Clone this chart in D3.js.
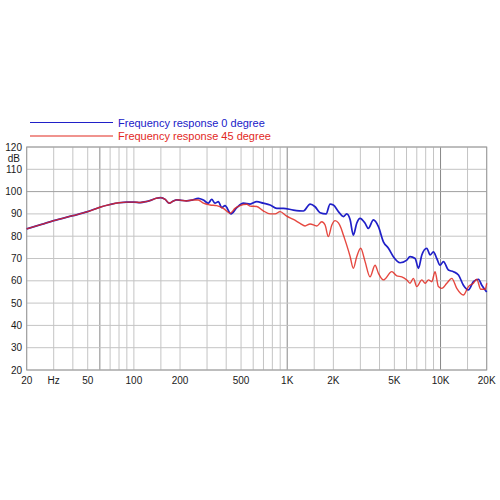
<!DOCTYPE html>
<html>
<head>
<meta charset="utf-8">
<script src="https://cdn.jsdelivr.net/npm/d3@7"></script>
<style>
  body { margin: 0; background: #fff; }
  svg { display: block; font-family: "Liberation Sans", Arial, sans-serif; }
</style>
</head>
<body>
<svg width="500" height="500"></svg>
<script>
// frequency response, 0 degree (blue)
var blueFreq = [20, 25, 30, 40, 50, 60, 70, 80, 90, 100, 110, 120, 130, 140, 150, 160, 170, 180, 190, 200, 220, 240, 263,
  284, 306, 322, 338, 356, 374, 393, 430, 469, 518, 573, 633, 698, 773, 855, 944, 1097, 1275, 1410, 1520, 1638, 1792,
  1904, 2000, 2158, 2325, 2444, 2570, 2700, 2840, 2987, 3220, 3382, 3648, 3934, 4240, 4572, 4924, 5446, 6025, 6325,
  6826, 7180, 7550, 8130, 8550, 8990, 9450, 9930, 10450, 11250, 12130, 13090, 14100, 15200, 16380, 17660, 18580, 20000];
var blueDb = [83.3, 85.3, 87.0, 89.2, 91.0, 93.0, 94.2, 95.0, 95.3, 95.3, 95.1, 95.5, 96.2, 97.0, 97.3, 96.5, 94.8, 95.7, 96.3, 96.2, 95.8, 96.2, 97.0,
  96.2, 94.8, 96.5, 94.8, 95.5, 92.8, 93.7, 90.0, 92.8, 94.8, 94.4, 95.5, 94.8, 94.0, 92.5, 92.5, 91.7, 91.3, 94.4, 93.2, 90.5, 90.0,
  94.4, 94.0, 91.0, 88.8, 90.0, 87.5, 80.5, 85.8, 88.0, 85.8, 83.5, 87.3, 84.3, 77.5, 74.6, 70.8, 68.1, 69.3, 70.8,
  70.0, 65.6, 71.6, 74.6, 71.6, 73.0, 70.0, 67.0, 68.6, 64.8, 64.1, 62.6, 58.0, 55.9, 59.6, 60.7, 58.0, 55.0];

// frequency response, 45 degree (red)
var redFreq = [20, 25, 30, 40, 50, 60, 70, 80, 90, 100, 110, 120, 130, 140, 150, 160, 170, 180, 190, 200, 220, 240, 263,
  284, 314, 347, 383, 424, 457, 492, 545, 573, 633, 698, 773, 834, 898, 993, 1097, 1213, 1307, 1410, 1559, 1680, 1766,
  1855, 1954, 2052, 2158, 2250, 2325, 2444, 2570, 2700, 2840, 3013, 3220, 3468, 3741, 3934, 4240, 4810, 5185, 5587,
  6025, 6325, 6650, 7000, 7550, 7940, 8340, 8770, 9210, 9680, 10190, 10990, 11830, 12760, 14100, 15200, 16380, 17220,
  18290, 19540, 20000];
var redDb = [83.3, 85.3, 87.0, 89.2, 91.0, 93.0, 94.2, 95.0, 95.3, 95.3, 95.1, 95.5, 96.2, 97.0, 97.3, 96.5, 94.8, 95.7, 96.3, 96.2, 95.8, 96.2, 96.2,
  94.8, 94.0, 93.7, 92.5, 90.3, 92.5, 93.7, 94.3, 93.5, 93.3, 91.4, 90.0, 90.0, 91.0, 89.0, 87.5, 85.8, 84.6, 85.5, 84.6, 86.5, 85.0,
  79.8, 85.0, 87.0, 86.0, 83.5, 80.5, 76.0, 71.0, 65.6, 70.8, 74.6, 68.6, 61.8, 67.0, 63.4, 60.4, 64.1, 62.2, 61.8,
  60.4, 58.9, 61.1, 57.4, 60.4, 58.9, 60.4, 59.6, 64.1, 57.4, 56.6, 58.9, 61.1, 56.6, 53.6, 57.4, 58.9, 60.7,
  56.2, 56.2, 58.9];

var gridFreqs = [20, 30, 40, 50, 60, 70, 80, 90, 100, 150, 200, 300, 400, 500, 600, 700, 800, 900,
  1000, 1500, 2000, 3000, 4000, 5000, 6000, 7000, 8000, 9000, 10000, 15000, 20000];
var darkFreqs = [60, 1000, 10000];
var xLabelFreqs = [20, 30, 50, 100, 200, 500, 1000, 2000, 5000, 10000, 20000];
var xLabelText = ["20", "Hz", "50", "100", "200", "500", "1K", "2K", "5K", "10K", "20K"];
var yTicks = [20, 30, 40, 50, 60, 70, 80, 90, 100, 110, 120];
var seriesNames = ["Frequency response 0 degree", "Frequency response 45 degree"];
var seriesColors = ["#2020c8", "#e2281e"];

var svg = d3.select("svg");
var x = d3.scaleLog().domain([20, 20000]).range([26.7, 486.7]);
var y = d3.scaleLinear().domain([20, 120]).range([370, 147]);

// grid
var grid = svg.append("g");
grid.selectAll("line.v")
  .data(gridFreqs)
  .enter().append("line")
    .attr("x1", function(d) { return x(d); })
    .attr("x2", function(d) { return x(d); })
    .attr("y1", y(20))
    .attr("y2", y(120))
    .attr("stroke", function(d) { return darkFreqs.indexOf(d) >= 0 ? "#888" : "#c4c4c4"; })
    .attr("stroke-width", 1);

grid.selectAll("line.h")
  .data(yTicks)
  .enter().append("line")
    .attr("x1", x(20))
    .attr("x2", x(20000))
    .attr("y1", function(d) { return y(d); })
    .attr("y2", function(d) { return y(d); })
    .attr("stroke", function(d) { return d == 100 ? "#a0a0a0" : "#c4c4c4"; })
    .attr("stroke-width", 1);

// frame
svg.append("rect")
  .attr("x", x(20)).attr("y", y(120))
  .attr("width", x(20000) - x(20)).attr("height", y(20) - y(120))
  .attr("fill", "none").attr("stroke", "#9a9a9a");

// y labels
svg.append("g").selectAll("text")
  .data(yTicks)
  .enter().append("text")
    .attr("x", 22)
    .attr("y", function(d) { return y(d) + 3.5; })
    .attr("text-anchor", "end")
    .attr("font-size", 10)
    .attr("fill", "#1a1a1a")
    .text(function(d) { return d; });

svg.append("text")
  .attr("x", 20).attr("y", 162)
  .attr("text-anchor", "end")
  .attr("font-size", 10)
  .attr("fill", "#1a1a1a")
  .text("dB");

// x labels
svg.append("g").selectAll("text")
  .data(xLabelFreqs)
  .enter().append("text")
    .attr("x", function(d) { return x(d); })
    .attr("y", 384)
    .attr("text-anchor", "middle")
    .attr("font-size", 10)
    .attr("fill", "#1a1a1a")
    .text(function(d, i) { return xLabelText[i]; });

// curves
var line = d3.line()
  .x(function(d) { return x(d[0]); })
  .y(function(d) { return y(d[1]); })
  .curve(d3.curveMonotoneX);

var blueData = blueFreq.map(function(f, i) { return [f, blueDb[i]]; });
var redData = redFreq.map(function(f, i) { return [f, redDb[i]]; });

svg.append("path")
  .datum(blueData)
  .attr("d", line)
  .attr("fill", "none")
  .attr("stroke", seriesColors[0])
  .attr("stroke-width", 1.7);

svg.append("path")
  .datum(redData)
  .attr("d", line)
  .attr("fill", "none")
  .attr("stroke", seriesColors[1])
  .attr("stroke-opacity", 0.85)
  .attr("stroke-width", 1.4);

// legend
var legend = svg.append("g").selectAll("g")
  .data(seriesNames)
  .enter().append("g")
    .attr("transform", function(d, i) { return "translate(0," + (122.5 + i * 13.5) + ")"; });

legend.append("line")
  .attr("x1", 30).attr("x2", 113)
  .attr("stroke", function(d, i) { return seriesColors[i]; })
  .attr("stroke-width", 1.2);

legend.append("text")
  .attr("x", 118).attr("y", 4)
  .attr("font-size", 11)
  .attr("fill", function(d, i) { return seriesColors[i]; })
  .text(function(d) { return d; });
</script>
</body>
</html>
